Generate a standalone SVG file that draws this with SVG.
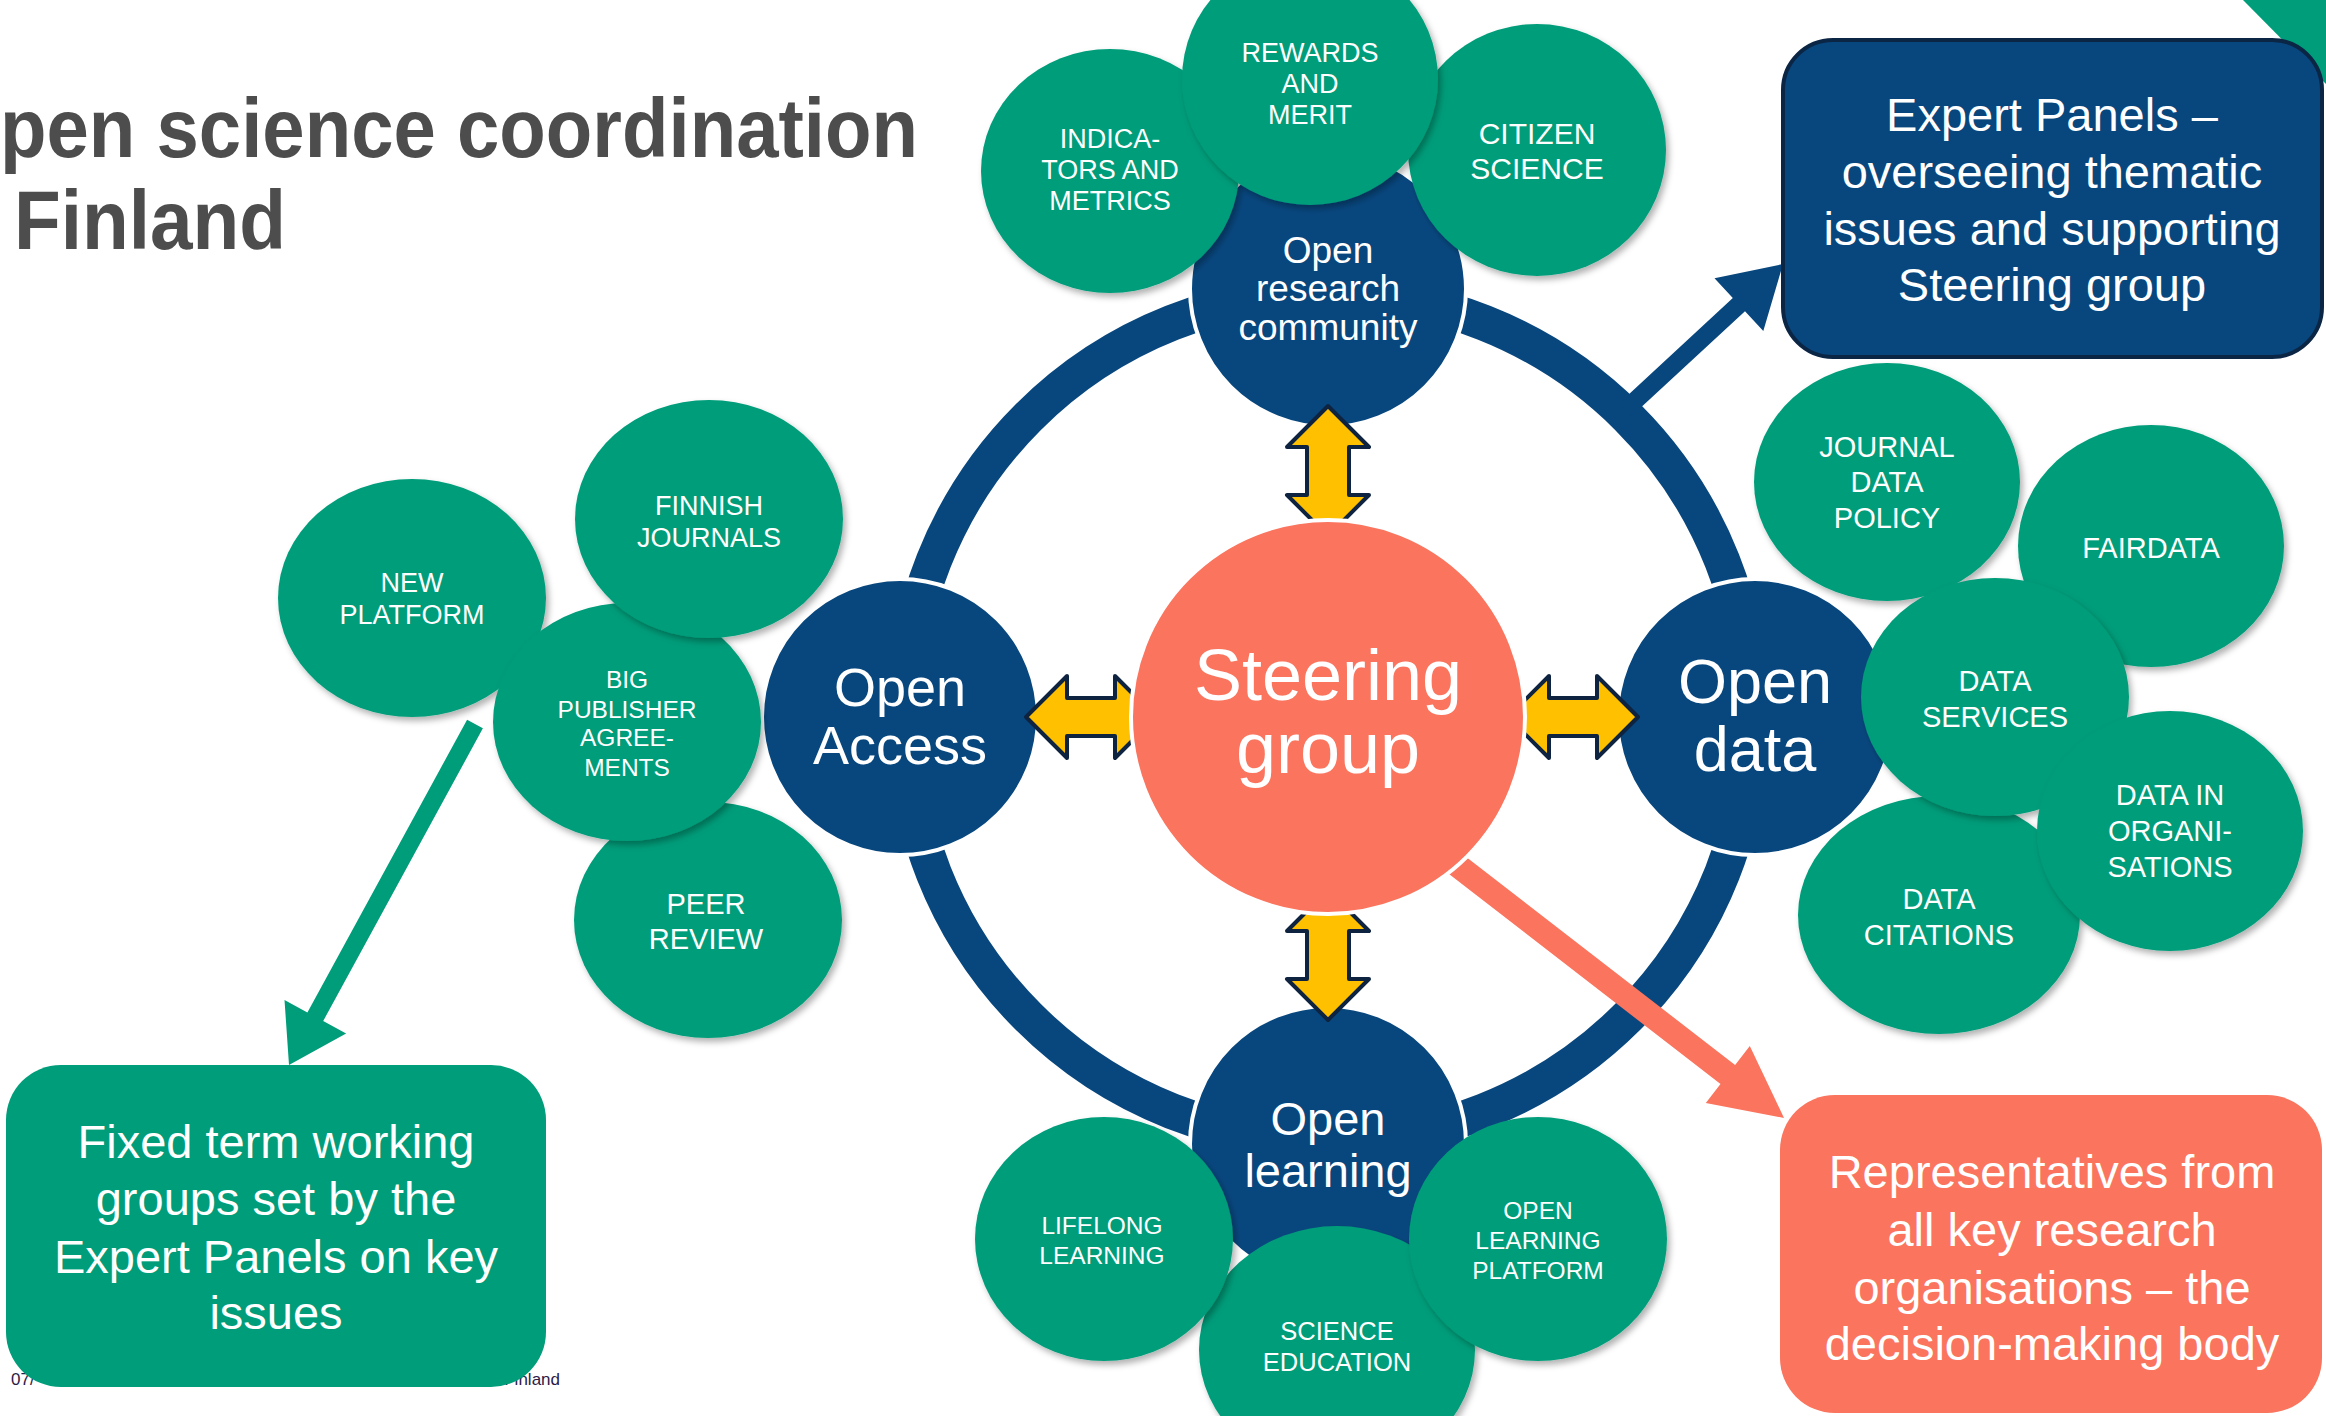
<svg xmlns="http://www.w3.org/2000/svg" width="2326" height="1416" viewBox="0 0 2326 1416">
<defs>
<filter id="sh" x="-20%" y="-20%" width="140%" height="140%">
<feDropShadow dx="3" dy="4" stdDeviation="3" flood-color="#000" flood-opacity="0.3"/>
</filter>
<style>
.g{fill:#009D7A;filter:url(#sh)}
.b{fill:#08477E;stroke:#fff;stroke-width:4}
.t{font-family:"Liberation Sans",Arial,sans-serif;fill:#fff;text-anchor:middle}
.y{fill:#FFC000;stroke:#0D2340;stroke-width:4;stroke-linejoin:round}
.box{font-family:"Liberation Sans",Arial,sans-serif;fill:#fff;text-anchor:middle;font-size:47px}
</style>
</defs>
<rect width="2326" height="1416" fill="#fff"/>
<polygon points="2243,0 2326,0 2326,84" fill="#009D7A"/>
<g id="title" font-family="'Liberation Sans',Arial,sans-serif" font-weight="bold" font-size="83" fill="#4D4D4D">
<text x="0" y="157" textLength="918" lengthAdjust="spacingAndGlyphs">pen science coordination</text>
<text x="14" y="249" textLength="272" lengthAdjust="spacingAndGlyphs">Finland</text>
</g>
<g id="footer" font-family="'Liberation Sans',Arial,sans-serif" font-size="17" fill="#2D1B45">
<text x="11" y="1385">07/</text>
<text x="560" y="1385" text-anchor="end">Finland</text>
</g>
<g id="ring">
<circle cx="1328" cy="717" r="424" fill="none" stroke="#08477E" stroke-width="36"/>
</g>
<g id="node-open-research-community">
<circle class="b" cx="1328" cy="289" r="138"/>
<text class="t" x="1328" font-size="37"><tspan x="1328" y="263">Open</tspan><tspan x="1328" y="301">research</tspan><tspan x="1328" y="340">community</tspan></text>
</g>
<g id="node-open-access">
<circle class="b" cx="900" cy="717" r="138"/>
<text class="t" font-size="54"><tspan x="900" y="706">Open</tspan><tspan x="900" y="764">Access</tspan></text>
</g>
<g id="node-open-data">
<circle class="b" cx="1755" cy="717" r="138"/>
<text class="t" font-size="63"><tspan x="1755" y="703">Open</tspan><tspan x="1755" y="771">data</tspan></text>
</g>
<g id="node-open-learning">
<circle class="b" cx="1328" cy="1144" r="138"/>
<text class="t" font-size="47"><tspan x="1328" y="1135">Open</tspan><tspan x="1328" y="1187">learning</tspan></text>
</g>
<g id="node-indicators">
<ellipse class="g" cx="1110" cy="171" rx="129" ry="122"/>
<text class="t" font-size="27"><tspan x="1110" y="148">INDICA-</tspan><tspan x="1110" y="179">TORS AND</tspan><tspan x="1110" y="210">METRICS</tspan></text>
</g>
<g id="node-citizen-science">
<ellipse class="g" cx="1537" cy="150" rx="129" ry="126"/>
<text class="t" font-size="30"><tspan x="1537" y="144">CITIZEN</tspan><tspan x="1537" y="179">SCIENCE</tspan></text>
</g>
<g id="node-rewards">
<ellipse class="g" cx="1310" cy="79" rx="128" ry="126"/>
<text class="t" font-size="27"><tspan x="1310" y="62">REWARDS</tspan><tspan x="1310" y="93">AND</tspan><tspan x="1310" y="124">MERIT</tspan></text>
</g>
<g id="node-new-platform">
<ellipse class="g" cx="412" cy="598" rx="134" ry="119"/>
<text class="t" font-size="27"><tspan x="412" y="592">NEW</tspan><tspan x="412" y="624">PLATFORM</tspan></text>
</g>
<g id="node-peer-review">
<ellipse class="g" cx="708" cy="920" rx="134" ry="118"/>
<text class="t" font-size="29"><tspan x="706" y="914">PEER</tspan><tspan x="706" y="949">REVIEW</tspan></text>
</g>
<g id="node-big-publisher">
<ellipse class="g" cx="627" cy="722" rx="134" ry="119"/>
<text class="t" font-size="24.5"><tspan x="627" y="688">BIG</tspan><tspan x="627" y="718">PUBLISHER</tspan><tspan x="627" y="746">AGREE-</tspan><tspan x="627" y="776">MENTS</tspan></text>
</g>
<g id="node-finnish-journals">
<ellipse class="g" cx="709" cy="519" rx="134" ry="119"/>
<text class="t" font-size="27"><tspan x="709" y="515">FINNISH</tspan><tspan x="709" y="547">JOURNALS</tspan></text>
</g>
<g id="node-journal-data-policy">
<ellipse class="g" cx="1887" cy="482" rx="133" ry="119"/>
<text class="t" font-size="29"><tspan x="1887" y="457">JOURNAL</tspan><tspan x="1887" y="492">DATA</tspan><tspan x="1887" y="528">POLICY</tspan></text>
</g>
<g id="node-fairdata">
<ellipse class="g" cx="2151" cy="546" rx="133" ry="121"/>
<text class="t" font-size="29" x="2151" y="558">FAIRDATA</text>
</g>
<g id="node-data-citations">
<ellipse class="g" cx="1939" cy="915" rx="141" ry="119"/>
<text class="t" font-size="29"><tspan x="1939" y="909">DATA</tspan><tspan x="1939" y="945">CITATIONS</tspan></text>
</g>
<g id="node-data-services">
<ellipse class="g" cx="1995" cy="697" rx="134" ry="119"/>
<text class="t" font-size="29"><tspan x="1995" y="691">DATA</tspan><tspan x="1995" y="727">SERVICES</tspan></text>
</g>
<g id="node-data-in-organisations">
<ellipse class="g" cx="2170" cy="831" rx="133" ry="120"/>
<text class="t" font-size="29"><tspan x="2170" y="805">DATA IN</tspan><tspan x="2170" y="841">ORGANI-</tspan><tspan x="2170" y="877">SATIONS</tspan></text>
</g>
<g id="node-science-education">
<ellipse class="g" cx="1337" cy="1350" rx="138" ry="124"/>
<text class="t" font-size="25.5"><tspan x="1337" y="1340">SCIENCE</tspan><tspan x="1337" y="1371">EDUCATION</tspan></text>
</g>
<g id="node-lifelong-learning">
<ellipse class="g" cx="1104" cy="1239" rx="129" ry="122"/>
<text class="t" font-size="24.5"><tspan x="1102" y="1234">LIFELONG</tspan><tspan x="1102" y="1264">LEARNING</tspan></text>
</g>
<g id="node-open-learning-platform">
<ellipse class="g" cx="1538" cy="1239" rx="129" ry="122"/>
<text class="t" font-size="24.5"><tspan x="1538" y="1219">OPEN</tspan><tspan x="1538" y="1249">LEARNING</tspan><tspan x="1538" y="1279">PLATFORM</tspan></text>
</g>
<g id="connectors">
<polygon fill="#08477E" points="1631.1,416.6 1745,311.3 1763.3,331.1 1783,264 1714.5,278.3 1732.8,298.1 1618.9,403.4"/>
<polygon fill="#FA745E" points="1436.7,864.5 1720.5,1084 1705.8,1103 1784,1118 1749.8,1046 1735.1,1065 1451.3,845.5"/>
<polygon fill="#009D7A" points="467.1,719.7 307.4,1012.4 284.5,999.9 289,1065 346.1,1033.5 323.2,1021 482.9,728.3"/>
<polygon class="y" points="1328,406 1369,447 1349,447 1349,495 1369,495 1328,536 1287,495 1307,495 1307,447 1287,447"/>
<polygon class="y" points="1328,890 1369,931 1349,931 1349,979 1369,979 1328,1020 1287,979 1307,979 1307,931 1287,931"/>
<polygon class="y" points="1026,717 1067,676 1067,698 1115,698 1115,676 1156,717 1115,758 1115,736 1067,736 1067,758"/>
<polygon class="y" points="1508,717 1549,676 1549,698 1597,698 1597,676 1638,717 1597,758 1597,736 1549,736 1549,758"/>
</g>
<g id="node-steering-group">
<circle cx="1328" cy="717" r="197" fill="#FA745E" stroke="#fff" stroke-width="4"/>
<text class="t" font-size="72"><tspan x="1328" y="700">Steering</tspan><tspan x="1328" y="773">group</tspan></text>
</g>
<g id="node-expert-panels">
<rect x="1783" y="40" width="539" height="317" rx="50" fill="#08477E" stroke="#0B2545" stroke-width="4"/>
<text class="box"><tspan x="2052" y="131">Expert Panels –</tspan><tspan x="2052" y="188">overseeing thematic</tspan><tspan x="2052" y="245">issues and supporting</tspan><tspan x="2052" y="301">Steering group</tspan></text>
</g>
<g id="node-representatives">
<rect x="1780" y="1095" width="542" height="318" rx="55" fill="#FA745E"/>
<text class="box"><tspan x="2052" y="1188">Representatives from</tspan><tspan x="2052" y="1246">all key research</tspan><tspan x="2052" y="1304">organisations – the</tspan><tspan x="2052" y="1360">decision-making body</tspan></text>
</g>
<g id="node-working-groups">
<rect x="6" y="1065" width="540" height="322" rx="55" fill="#009D7A"/>
<text class="box"><tspan x="276" y="1158">Fixed term working</tspan><tspan x="276" y="1215">groups set by the</tspan><tspan x="276" y="1273">Expert Panels on key</tspan><tspan x="276" y="1329">issues</tspan></text>
</g>
</svg>
